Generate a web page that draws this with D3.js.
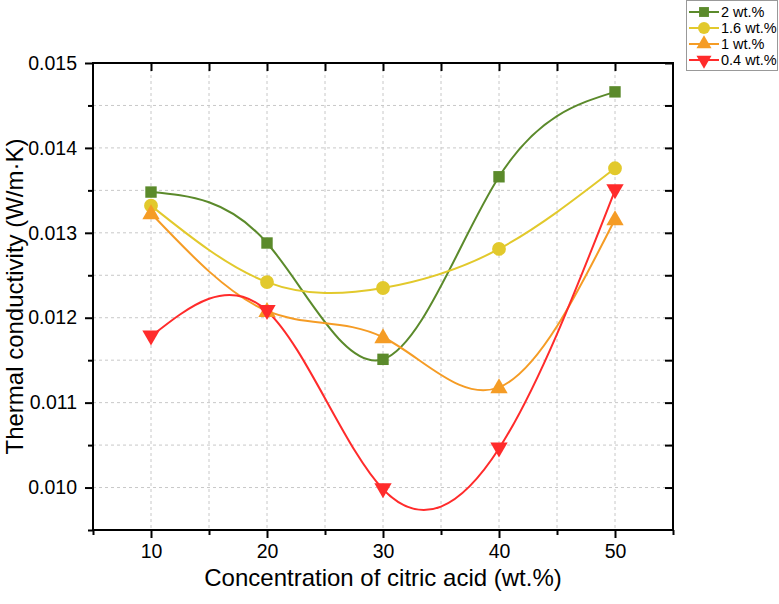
<!DOCTYPE html>
<html>
<head>
<meta charset="utf-8">
<script src="https://cdn.jsdelivr.net/npm/d3@7"></script>
<style>
  body { margin: 0; background: #fff; }
  svg { font-family: "Liberation Sans", Arial, sans-serif; }
</style>
</head>
<body>
<div id="chart"></div>
<script>
const concentrations = [10, 20, 30, 40, 50];
const seriesNames = ["2 wt.%", "1.6 wt.%", "1 wt.%", "0.4 wt.%"];
const wt2 = [0.01348, 0.01288, 0.01151, 0.01366, 0.01466];
const wt16 = [0.01332, 0.01242, 0.01235, 0.01281, 0.01376];
const wt1 = [0.01323, 0.01208, 0.01177, 0.01118, 0.01316];
const wt04 = [0.01178, 0.01208, 0.00998, 0.01046, 0.01350];
const xTicks = [10, 20, 30, 40, 50];
const yTicks = [0.010, 0.011, 0.012, 0.013, 0.014, 0.015];

const seriesValues = [wt2, wt16, wt1, wt04];
const colors = ["#5b8a2b", "#e2c92c", "#f59c25", "#ff2b2b"];
const symbols = [d3.symbolSquare, d3.symbolCircle, d3.symbolTriangle, d3.symbolTriangle];
const rotations = [0, 0, 0, 180];
const symSizes = [130, 150, 130, 130];

const width = 779, height = 604;
const margin = {left: 93, top: 63, right: 106, bottom: 74};
const vpWidth = width - margin.left - margin.right;
const vpHeight = height - margin.top - margin.bottom;

const x = d3.scaleLinear().domain([5, 55]).range([0, vpWidth]);
const y = d3.scaleLinear().domain([0.0095, 0.015]).range([vpHeight, 0]);

const svg = d3.select("#chart").append("svg")
    .attr("width", width)
    .attr("height", height);

const g = svg.append("g")
    .attr("transform", `translate(${margin.left}, ${margin.top})`);

// grid every minor step
const gridX = d3.range(10, 55, 5);
const gridY = d3.range(0.0100, 0.01501, 0.0005).map(v => +v.toFixed(4));

g.append("g").selectAll("line").data(gridX).join("line")
    .attr("x1", d => x(d)).attr("x2", d => x(d))
    .attr("y1", 0).attr("y2", vpHeight)
    .attr("stroke", "#c8c8c8").attr("stroke-dasharray", "3,3").attr("stroke-width", 1);

g.append("g").selectAll("line").data(gridY).join("line")
    .attr("x1", 0).attr("x2", vpWidth)
    .attr("y1", d => y(d)).attr("y2", d => y(d))
    .attr("stroke", "#c8c8c8").attr("stroke-dasharray", "3,3").attr("stroke-width", 1);

// axes
const minorX = d3.range(5, 56, 5).filter(v => xTicks.indexOf(v) === -1);
const minorY = d3.range(0.0095, 0.01501, 0.001).map(v => +v.toFixed(4));

function styleAxis(sel) {
    sel.select(".domain").remove();
    sel.selectAll(".tick line").attr("stroke", "#000").attr("stroke-width", 2);
    sel.selectAll("text").attr("fill", "#000");
}

g.append("g").attr("transform", `translate(0, ${vpHeight})`)
    .call(d3.axisBottom(x).tickValues(minorX).tickSize(5).tickFormat(""))
    .call(styleAxis);
g.append("g").attr("transform", `translate(0, ${vpHeight})`)
    .call(d3.axisBottom(x).tickValues(xTicks).tickSize(8).tickPadding(6).tickFormat(d3.format("d")))
    .call(styleAxis)
    .selectAll("text").attr("font-size", 19.5);

g.append("g")
    .call(d3.axisLeft(y).tickValues(minorY).tickSize(5).tickFormat(""))
    .call(styleAxis);
g.append("g")
    .call(d3.axisLeft(y).tickValues(yTicks).tickSize(8).tickPadding(8).tickFormat(d3.format(".3f")))
    .call(styleAxis)
    .selectAll("text").attr("font-size", 19.5);

// mirrored ticks, inward
g.append("g")
    .call(d3.axisBottom(x).tickValues(d3.range(10, 55, 5)).tickSize(8).tickFormat(""))
    .call(styleAxis);
g.append("g").attr("transform", `translate(${vpWidth}, 0)`)
    .call(d3.axisLeft(y).tickValues(gridY).tickSize(8).tickFormat(""))
    .call(styleAxis);

g.append("rect")
    .attr("width", vpWidth).attr("height", vpHeight)
    .attr("fill", "none").attr("stroke", "#000").attr("stroke-width", 2);

// series
const line = d3.line()
    .x((d, i) => x(concentrations[i]))
    .y(d => y(d))
    .curve(d3.curveNatural);

seriesValues.forEach((vals, s) => {
    g.append("path")
        .datum(vals)
        .attr("d", line)
        .attr("fill", "none")
        .attr("stroke", colors[s])
        .attr("stroke-width", 2);
});

seriesValues.forEach((vals, s) => {
    g.append("g").selectAll("path").data(vals).join("path")
        .attr("d", d3.symbol(symbols[s], symSizes[s]))
        .attr("transform", (d, i) => `translate(${x(concentrations[i])}, ${y(d) + (s >= 2 ? (s === 2 ? 1 : -1) : 0)}) rotate(${rotations[s]})`)
        .attr("fill", colors[s]);
});

// axis titles
svg.append("text")
    .attr("x", margin.left + vpWidth / 2)
    .attr("y", 586)
    .attr("text-anchor", "middle")
    .attr("font-size", 24)
    .text("Concentration of citric acid (wt.%)");

svg.append("text")
    .attr("transform", `translate(23, ${margin.top + vpHeight / 2}) rotate(-90)`)
    .attr("text-anchor", "middle")
    .attr("font-size", 24)
    .text("Thermal conductivity (W/m\u00B7K)");

// legend
const legend = svg.append("g");
legend.append("rect")
    .attr("x", 686.5).attr("y", 0.5).attr("width", 91).attr("height", 70)
    .attr("fill", "#fff").attr("stroke", "#999").attr("stroke-width", 1);

seriesNames.forEach((name, s) => {
    const ly = 12 + s * 16;
    legend.append("line")
        .attr("x1", 689).attr("x2", 719).attr("y1", ly).attr("y2", ly)
        .attr("stroke", colors[s]).attr("stroke-width", 2);
    legend.append("path")
        .attr("d", d3.symbol(symbols[s], symSizes[s] * 0.75))
        .attr("transform", `translate(704, ${ly}) rotate(${rotations[s]})`)
        .attr("fill", colors[s]);
    legend.append("text")
        .attr("x", 721).attr("y", ly + 5)
        .attr("font-size", 14.5)
        .text(name);
});
</script>
</body>
</html>
